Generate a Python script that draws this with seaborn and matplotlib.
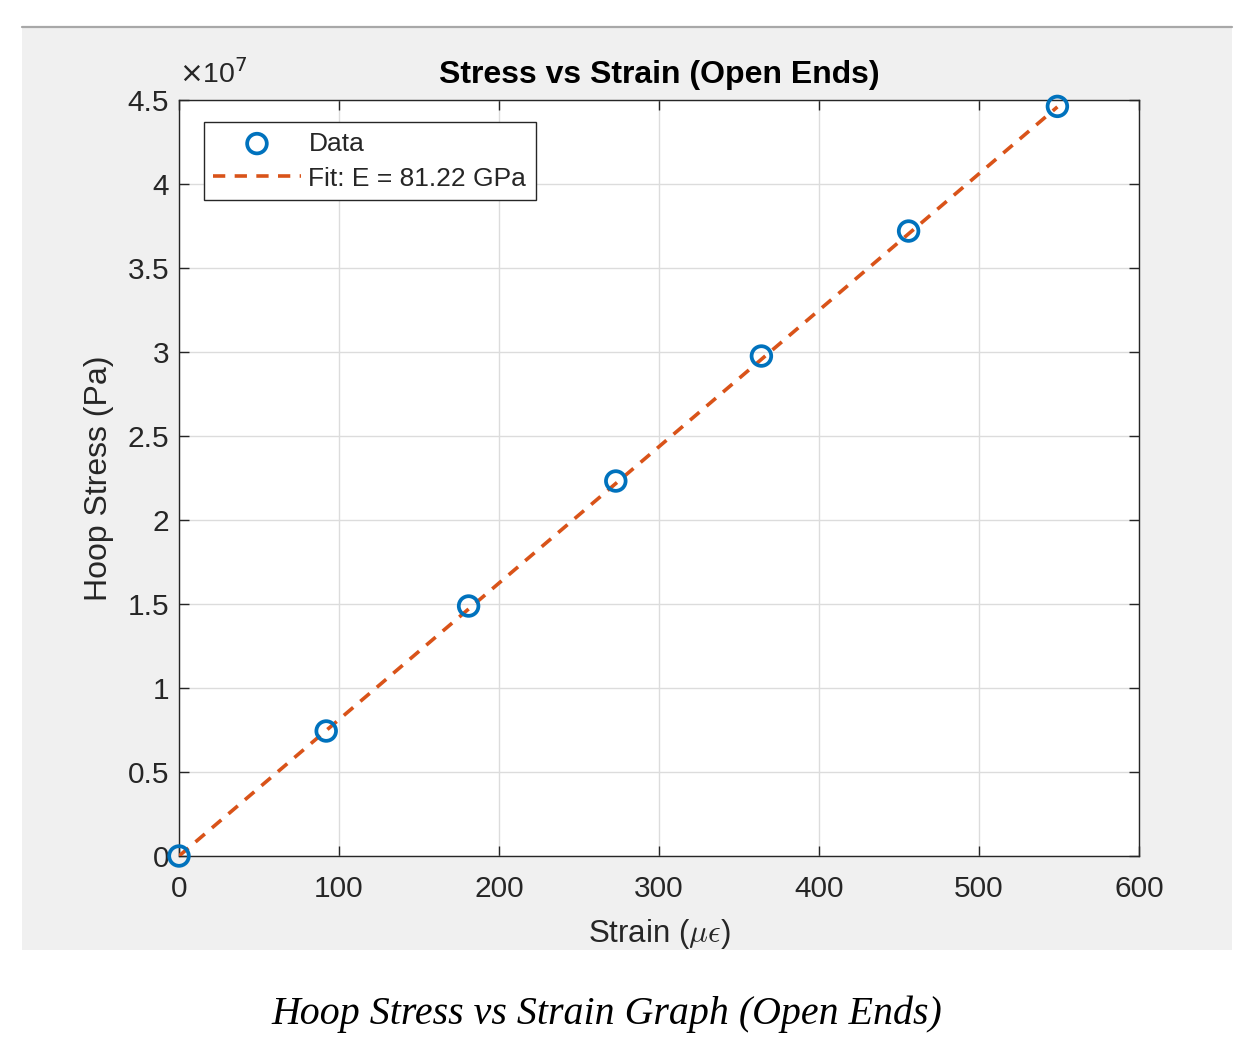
import numpy as np
import pandas as pd
import matplotlib
matplotlib.use("Agg")
import matplotlib.pyplot as plt
import seaborn as sns
from matplotlib.patches import Rectangle
from matplotlib.lines import Line2D

# ---- data ----
strain_ue = [0, 92, 181, 273, 364, 456, 549]                      # micro-strain
stress_pa = [0.0, 0.744e7, 1.488e7, 2.232e7, 2.976e7, 3.72e7, 4.462e7]
fit_strain = [0, 549]
fit_stress = [0.0, 4.459e7]
fit_label = "Fit: E = 81.22 GPa"
x_ticks = [0, 100, 200, 300, 400, 500, 600]
y_ticks = [0, 0.5e7, 1e7, 1.5e7, 2e7, 2.5e7, 3e7, 3.5e7, 4e7, 4.5e7]
y_tick_labels = ["0", "0.5", "1", "1.5", "2", "2.5", "3", "3.5", "4", "4.5"]

df = pd.DataFrame({"strain": strain_ue, "stress": stress_pa})
df_fit = pd.DataFrame({"strain": fit_strain, "stress": fit_stress})

sns.set_theme(style="white")
plt.rcParams['font.family'] = ['Liberation Sans', 'DejaVu Sans']
plt.rcParams['mathtext.fontset'] = 'cm'

W, H = 1255, 1048
fig = plt.figure(figsize=(W / 100, H / 100), dpi=100)
fig.patch.set_facecolor("white")

# gray MATLAB figure panel
fig.add_artist(Rectangle((22 / W, 1 - 950 / H), (1232 - 22) / W, (950 - 28) / H,
                         transform=fig.transFigure, facecolor="#F0F0F0",
                         edgecolor="none", zorder=0))
fig.add_artist(Line2D([22 / W, 1232 / W], [1 - 27 / H, 1 - 27 / H],
                      transform=fig.transFigure, color="#A8A8A8", lw=1.6, zorder=1))

ax = fig.add_axes([179 / W, 1 - 856 / H, (1139 - 179) / W, (856 - 100) / H])
ax.set_facecolor("white")

blue = "#0072BD"
orange = "#D95319"
txt = "#262626"

sns.lineplot(data=df_fit, x="strain", y="stress", ax=ax, color=orange,
             linewidth=2.6, linestyle=(0, (3.4, 2.6)), label=fit_label, zorder=3)
sns.scatterplot(data=df, x="strain", y="stress", ax=ax, marker="o", s=200,
                facecolor="none", edgecolor=blue, linewidth=2.7, label="Data",
                zorder=4, clip_on=False)

ax.set_xlim(0, 600)
ax.set_ylim(0, 4.5e7)
ax.set_xticks(x_ticks)
ax.set_xticklabels([str(v) for v in x_ticks])
ax.set_yticks(y_ticks)
ax.set_yticklabels(y_tick_labels)

ax.grid(True, color="#DCDCDC", linewidth=1.0)
ax.set_axisbelow(True)
for s in ax.spines.values():
    s.set_visible(True)
    s.set_color(txt)
    s.set_linewidth(1.0)

ax.tick_params(axis="both", which="both", direction="in", length=7, width=1.0,
               colors=txt, labelsize=21.5, top=True, right=True, bottom=True, left=True)
ax.tick_params(axis="x", pad=14)
ax.tick_params(axis="y", pad=7)

ax.set_xlabel(r"Strain ($\mu\epsilon$)", fontsize=22.5, color=txt, labelpad=10)
ax.set_ylabel("Hoop Stress (Pa)", fontsize=23, color=txt, labelpad=10)
ax.set_title("Stress vs Strain (Open Ends)", fontsize=23, fontweight="bold",
             color="black", pad=12)

# exponent label
ax.text(0.0, 1.014, r"$\times$10$^7$", transform=ax.transAxes, fontsize=20.5,
        color=txt, ha="left", va="bottom", family="Liberation Sans",
        math_fontfamily="dejavusans")

h, l = ax.get_legend_handles_labels()
order = [l.index("Data"), l.index(fit_label)]
leg = ax.legend([h[i] for i in order], [l[i] for i in order],
                loc="upper left", bbox_to_anchor=(0.0125, 0.988), fontsize=19,
                frameon=True, fancybox=False, framealpha=1, edgecolor=txt,
                borderpad=0.35, handlelength=3.3, handletextpad=0.3, labelspacing=0.42)
leg.get_frame().set_linewidth(1.0)
for t in leg.get_texts():
    t.set_color(txt)

fig.text(607 / W, 1 - 1014 / H, "Hoop Stress vs Strain Graph (Open Ends)",
         fontsize=28.7, style="italic", family="Liberation Serif", ha="center",
         va="center", color="black")

fig.savefig("out.png", dpi=100)
